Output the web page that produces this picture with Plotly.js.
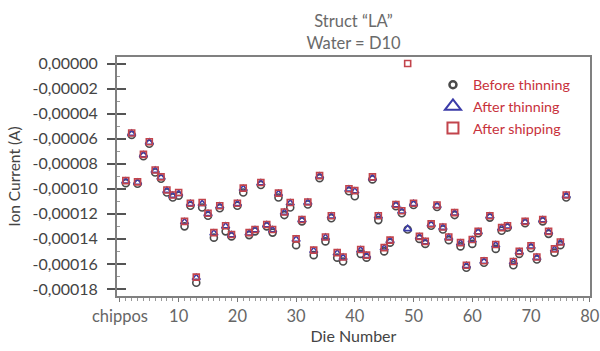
<!DOCTYPE html>
<html>
<head>
<meta charset="utf-8">
<script src="https://cdn.plot.ly/plotly-3.0.1.min.js"></script>
<style>
html,body{margin:0;padding:0;background:#fff;}
#chart{width:600px;height:351px;}
</style>
</head>
<body>
<div id="chart"></div>
<script>
var dies = [1,2,3,4,5,6,7,8,9,10,11,12,13,14,15,16,17,18,19,20,21,22,23,24,25,26,27,28,29,30,31,32,33,34,35,36,37,38,39,40,41,42,43,44,45,46,47,48,49,50,51,52,53,54,55,56,57,58,59,60,61,62,63,64,65,66,67,68,69,70,71,72,73,74,75,76];

var beforeThinning = [
-9.55e-5,-5.70e-5,-9.60e-5,-7.40e-5,-6.40e-5,-8.70e-5,-9.20e-5,-10.30e-5,-10.70e-5,-10.55e-5,
-13.00e-5,-11.35e-5,-17.50e-5,-11.50e-5,-12.15e-5,-13.90e-5,-11.55e-5,-13.40e-5,-13.80e-5,-11.35e-5,
-10.30e-5,-13.70e-5,-13.40e-5,-9.70e-5,-13.00e-5,-13.50e-5,-10.70e-5,-12.10e-5,-11.50e-5,-14.50e-5,
-12.60e-5,-11.25e-5,-15.30e-5,-9.15e-5,-14.20e-5,-12.35e-5,-15.50e-5,-15.80e-5,-10.20e-5,-10.60e-5,
-15.20e-5,-15.50e-5,-9.25e-5,-12.50e-5,-15.00e-5,-14.30e-5,-11.40e-5,-11.95e-5,-13.25e-5,-11.30e-5,
-14.00e-5,-14.40e-5,-12.95e-5,-11.45e-5,-13.25e-5,-14.10e-5,-12.10e-5,-14.60e-5,-16.30e-5,-14.40e-5,
-13.55e-5,-15.90e-5,-12.30e-5,-14.80e-5,-13.35e-5,-13.10e-5,-16.10e-5,-15.20e-5,-12.75e-5,-14.75e-5,
-15.65e-5,-12.60e-5,-13.60e-5,-15.10e-5,-14.50e-5,-10.70e-5];

var afterThinning = [
-9.40e-5,-5.60e-5,-9.50e-5,-7.30e-5,-6.30e-5,-8.55e-5,-9.10e-5,-10.15e-5,-10.55e-5,-10.40e-5,
-12.65e-5,-11.20e-5,-17.10e-5,-11.20e-5,-12.00e-5,-13.55e-5,-11.40e-5,-13.00e-5,-13.70e-5,-11.20e-5,
-10.00e-5,-13.55e-5,-13.30e-5,-9.55e-5,-12.90e-5,-13.30e-5,-10.40e-5,-11.90e-5,-11.15e-5,-14.05e-5,
-12.50e-5,-11.10e-5,-14.95e-5,-9.00e-5,-13.90e-5,-12.20e-5,-15.15e-5,-15.50e-5,-10.05e-5,-10.20e-5,
-14.90e-5,-15.35e-5,-9.15e-5,-12.20e-5,-14.75e-5,-14.15e-5,-11.30e-5,-11.80e-5,-13.20e-5,-11.20e-5,
-13.85e-5,-14.25e-5,-12.85e-5,-11.35e-5,-13.10e-5,-13.90e-5,-11.95e-5,-14.35e-5,-16.15e-5,-14.10e-5,
-13.45e-5,-15.80e-5,-12.20e-5,-14.50e-5,-13.15e-5,-13.00e-5,-15.85e-5,-15.05e-5,-12.65e-5,-14.60e-5,
-15.50e-5,-12.50e-5,-13.45e-5,-14.85e-5,-14.30e-5,-10.55e-5];

var afterShipping = [
-9.35e-5,-5.55e-5,-9.45e-5,-7.25e-5,-6.25e-5,-8.50e-5,-9.05e-5,-10.10e-5,-10.50e-5,-10.30e-5,
-12.60e-5,-11.15e-5,-17.05e-5,-11.10e-5,-11.95e-5,-13.50e-5,-11.35e-5,-12.95e-5,-13.65e-5,-11.15e-5,
-9.95e-5,-13.50e-5,-13.25e-5,-9.50e-5,-12.85e-5,-13.25e-5,-10.35e-5,-11.85e-5,-11.10e-5,-14.00e-5,
-12.45e-5,-11.05e-5,-14.90e-5,-8.95e-5,-13.85e-5,-12.15e-5,-15.10e-5,-15.45e-5,-10.00e-5,-10.15e-5,
-14.85e-5,-15.30e-5,-9.05e-5,-12.15e-5,-14.70e-5,-14.10e-5,-11.25e-5,-11.75e-5,0.0,-11.15e-5,
-13.80e-5,-14.20e-5,-12.80e-5,-11.30e-5,-13.05e-5,-13.85e-5,-11.90e-5,-14.30e-5,-16.10e-5,-14.05e-5,
-13.40e-5,-15.75e-5,-12.15e-5,-14.45e-5,-13.10e-5,-12.95e-5,-15.80e-5,-15.00e-5,-12.60e-5,-14.55e-5,
-15.45e-5,-12.45e-5,-13.40e-5,-14.80e-5,-14.25e-5,-10.50e-5];

var seriesNames = ["Before thinning", "After thinning", "After shipping"];
var xTickVals = [0,10,20,30,40,50,60,70,80];
var xTickText = ["chippos","10","20","30","40","50","60","70","80"];
var yTickVals = [0,-0.00002,-0.00004,-0.00006,-0.00008,-0.0001,-0.00012,-0.00014,-0.00016,-0.00018];
var yTickText = ["0,00000","-0,00002","-0,00004","-0,00006","-0,00008","-0,00010","-0,00012","-0,00014","-0,00016","-0,00018"];

var cCircle = "#4a4a4a", cTri = "#3b3ba8", cSq = "#c2444c";

var traces = [
  {x: dies, y: beforeThinning, type: "scatter", mode: "markers", showlegend: false, hoverinfo: "skip",
   marker: {symbol: "circle-open", size: 7, color: cCircle, line: {width: 1.6, color: cCircle}}},
  {x: dies, y: afterThinning, type: "scatter", mode: "markers", showlegend: false, hoverinfo: "skip",
   marker: {symbol: "triangle-up-open", size: 7, color: cTri, line: {width: 1.6, color: cTri}}},
  {x: dies, y: afterShipping, type: "scatter", mode: "markers", showlegend: false, hoverinfo: "skip",
   marker: {symbol: "square-open", size: 6, color: cSq, line: {width: 1.6, color: cSq}}},
  {x: [null], y: [null], type: "scatter", mode: "markers", name: seriesNames[0],
   marker: {symbol: "circle-open", size: 7, color: cCircle, line: {width: 2.5, color: cCircle}}},
  {x: [null], y: [null], type: "scatter", mode: "markers", name: seriesNames[1],
   marker: {symbol: "triangle-up-open", size: 14, color: cTri, line: {width: 2, color: cTri}}},
  {x: [null], y: [null], type: "scatter", mode: "markers", name: seriesNames[2],
   marker: {symbol: "square-open", size: 11, color: cSq, line: {width: 2, color: cSq}}},
  {x: [null], y: [null], yaxis: "y2", type: "scatter", mode: "markers", showlegend: false, hoverinfo: "skip"}
];

var layout = {
  width: 600, height: 351,
  margin: {l: 117, r: 10, t: 57, b: 55},
  paper_bgcolor: "#ffffff",
  plot_bgcolor: "#ffffff",
  font: {family: "Lato, 'Open Sans', sans-serif", color: "#555"},
  title: {text: "Struct \u201cLA\u201d<br>Water = D10", x: 0.5, xref: "paper", xanchor: "center",
          yref: "container", y: 0.922, yanchor: "top", font: {size: 16.5, color: "#6a6a6a"}},
  xaxis: {
    range: [-0.5, 80.05], tickvals: xTickVals, ticktext: xTickText,
    ticks: "outside", ticklen: 4, tickwidth: 1, tickcolor: "#777",
    minor: {dtick: 1, ticks: "outside", ticklen: 3, tickcolor: "#999", tickwidth: 1},
    showgrid: false, zeroline: false,
    showline: true, mirror: true, linecolor: "#808080", linewidth: 2,
    tickfont: {size: 16.5, color: "#666"},
    ticklabeloverflow: "allow",
    title: {text: "Die Number", font: {size: 16, color: "#444"}, standoff: 2}
  },
  yaxis: {
    range: [-0.0001856, 0.0000052], tickvals: yTickVals, ticktext: yTickText,
    ticks: "outside", ticklen: 8, tickwidth: 2, tickcolor: "#555",
    showgrid: false, zeroline: false,
    showline: true, mirror: true, linecolor: "#808080", linewidth: 2,
    tickfont: {size: 16, color: "#444"},
    ticklabelstandoff: 6,
    title: {text: "Ion Current (A)", font: {size: 15.5, color: "#444"}, standoff: 8}
  },
  yaxis2: {
    overlaying: "y", matches: "y", side: "left",
    tickvals: yTickVals, ticks: "inside", ticklen: 9, tickwidth: 2, tickcolor: "#555",
    showticklabels: false, showgrid: false, zeroline: false, showline: false,
    minor: {dtick: 0.00001, ticks: "inside", ticklen: 3, tickcolor: "#999", tickwidth: 1}
  },
  legend: {x: 0.668, y: 0.95, xanchor: "left", yanchor: "top", bgcolor: "rgba(0,0,0,0)",
           font: {size: 14.3, color: "#c8323c"}, tracegroupgap: 0, itemwidth: 30},
  showlegend: true
};

Plotly.newPlot("chart", traces, layout, {staticPlot: true, displayModeBar: false});
</script>
</body>
</html>
